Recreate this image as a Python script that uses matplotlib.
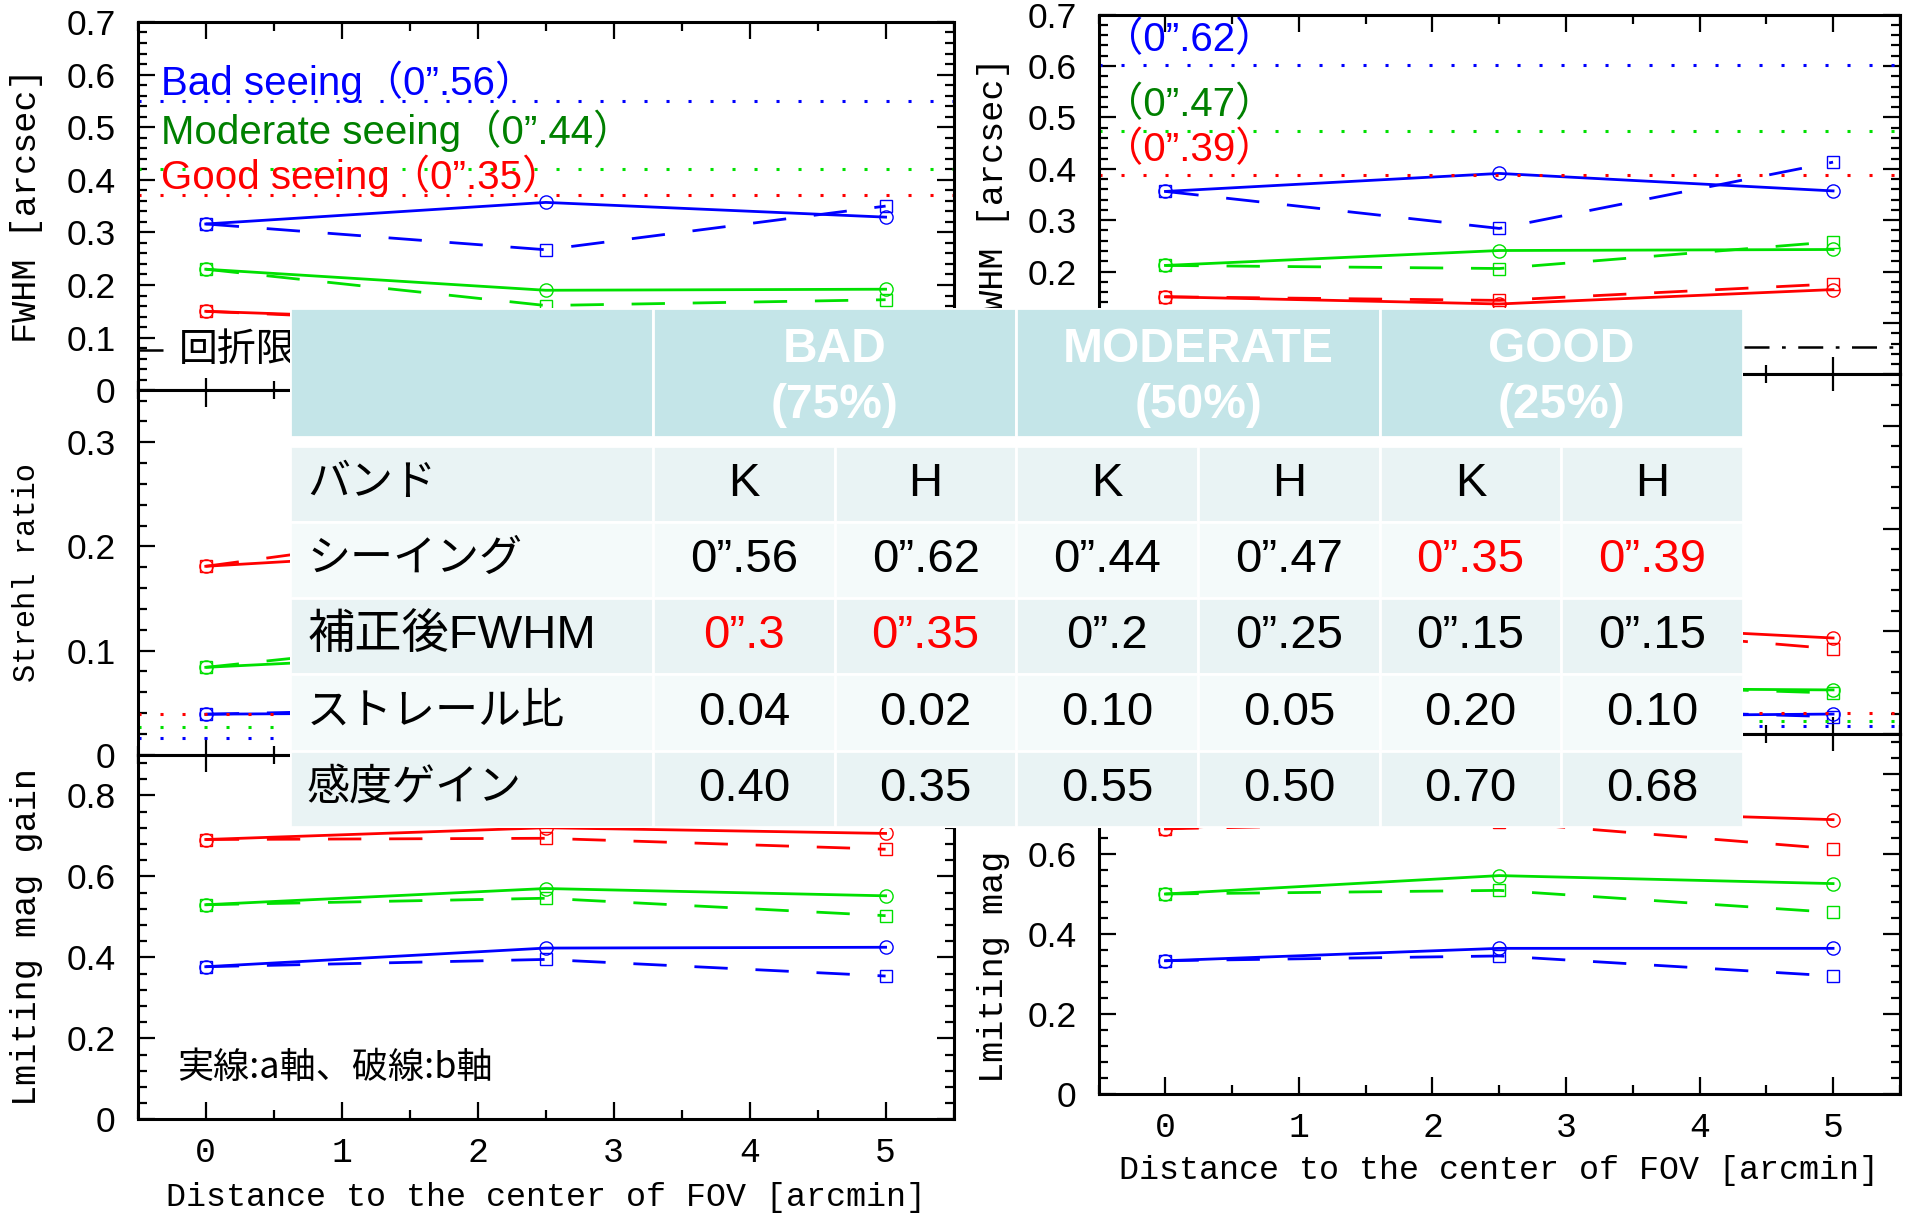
import numpy as np
import matplotlib
matplotlib.use('Agg')
import matplotlib.pyplot as plt
from matplotlib.patches import Rectangle
from matplotlib.ticker import MultipleLocator

plt.rcParams['font.family'] = ['Liberation Sans', 'Noto Sans CJK JP', 'DejaVu Sans']

# 視野中心からの距離 [arcmin]
dist = [0, 2.5, 5]

# 行: bad / moderate / good seeing、a軸(実線) と b軸(破線)
k_fwhm_a = [[0.316, 0.357, 0.329], [0.230, 0.190, 0.192], [0.150, 0.128, 0.135]]
k_fwhm_b = [[0.316, 0.267, 0.350], [0.230, 0.161, 0.172], [0.150, 0.122, 0.140]]
k_strehl_a = [[0.039, 0.041, 0.040], [0.084, 0.100, 0.092], [0.181, 0.200, 0.185]]
k_strehl_b = [[0.039, 0.046, 0.036], [0.084, 0.118, 0.088], [0.181, 0.225, 0.170]]
k_gain_a = [[0.377, 0.423, 0.425], [0.530, 0.570, 0.552], [0.691, 0.720, 0.706]]
k_gain_b = [[0.377, 0.395, 0.354], [0.530, 0.546, 0.503], [0.691, 0.694, 0.667]]

h_fwhm_a = [[0.356, 0.391, 0.357], [0.212, 0.241, 0.243], [0.151, 0.137, 0.165]]
h_fwhm_b = [[0.356, 0.284, 0.413], [0.212, 0.206, 0.258], [0.151, 0.144, 0.176]]
h_strehl_a = [[0.020, 0.017, 0.0195], [0.048, 0.045, 0.043], [0.105, 0.110, 0.0935]]
h_strehl_b = [[0.020, 0.026, 0.017], [0.048, 0.050, 0.040], [0.105, 0.110, 0.083]]
h_gain_a = [[0.333, 0.364, 0.364], [0.500, 0.546, 0.526], [0.663, 0.712, 0.686]]
h_gain_b = [[0.333, 0.345, 0.295], [0.500, 0.509, 0.454], [0.663, 0.680, 0.613]]

# シーイングのみ (点線) と回折限界 (一点鎖線)
k_seeing_fwhm = [0.549, 0.420, 0.372]
k_seeing_strehl = [0.016, 0.027, 0.039]
h_seeing_fwhm = [0.602, 0.473, 0.387]
h_seeing_strehl = [0.008, 0.013, 0.021]
k_diff_limit = 0.076
h_diff_limit = 0.054

seeing_names = ['Bad seeing', 'Moderate seeing', 'Good seeing']
k_seeing_text = ['0”.56', '0”.44', '0”.35']
h_seeing_text = ['0”.62', '0”.47', '0”.39']
k_label_y = [0.587, 0.494, 0.408]
h_label_y = [0.650, 0.524, 0.436]

line_colors = ['#0000ff', '#00e000', '#ff0000']
text_colors = ['#0000ff', '#008000', '#ff0000']

# 表
table_groups = ['', 'BAD\n(75%)', 'MODERATE\n(50%)', 'GOOD\n(25%)']
row_names = ['バンド', 'シーイング', '補正後FWHM', 'ストレール比', '感度ゲイン']
row_name_size = [31, 31, 34, 31, 31]
row_band = ['K', 'H', 'K', 'H', 'K', 'H']
row_seeing = ['0”.56', '0”.62', '0”.44', '0”.47', '0”.35', '0”.39']
row_fwhm = ['0”.3', '0”.35', '0”.2', '0”.25', '0”.15', '0”.15']
row_strehl = ['0.04', '0.02', '0.10', '0.05', '0.20', '0.10']
row_gain = ['0.40', '0.35', '0.55', '0.50', '0.70', '0.68']
red_cells = [(1, 4), (1, 5), (2, 0), (2, 1)]

mono = 'Liberation Mono'

fig = plt.figure(figsize=(19.12, 12.17), dpi=100)

left_x, left_w = 0.07207, 0.42666
right_x, right_w = 0.57462, 0.41901
left_rows = [(0.67936, 0.3026), (0.37976, 0.2996), (0.08016, 0.2996)]
right_rows = [(0.69238, 0.29559), (0.39679, 0.29559), (0.10120, 0.29559)]

panel_ylim = [0.7, 0.35, 0.9]
panel_major = [0.1, 0.1, 0.2]
panel_minor = [0.02, 0.02, 0.04]
panel_ylabel = ['FWHM [arcsec]', 'Strehl ratio', 'Lmiting mag gain']
panel_ylabel_size = [25.3, 22, 25.3]


def setup_axes(ax, i, label_x):
    ax.set_xlim(-0.5, 5.5)
    ax.set_ylim(0, panel_ylim[i])
    ax.set_xticks([0, 1, 2, 3, 4, 5])
    ax.xaxis.set_minor_locator(MultipleLocator(0.5))
    yt = np.round(np.arange(0, panel_ylim[i] + 1e-9, panel_major[i]), 2)
    ax.set_yticks(yt)
    ax.set_yticklabels(['0' if v == 0 else f'{v:.1f}' for v in yt], fontsize=25.5)
    ax.yaxis.set_minor_locator(MultipleLocator(panel_minor[i]))
    ax.tick_params(which='both', direction='in', top=True, right=True, width=1.6)
    ax.tick_params(which='major', length=12.5)
    ax.tick_params(which='minor', length=6.5)
    ax.tick_params(axis='y', pad=16)
    for s in ax.spines.values():
        s.set_linewidth(2.2)
    if i == 2:
        ax.set_xticklabels(['0', '1', '2', '3', '4', '5'], family=mono, fontsize=25)
        ax.tick_params(axis='x', pad=12)
        ax.set_xlabel('Distance to the center of FOV [arcmin]', family=mono, fontsize=24)
        ax.xaxis.set_label_coords(0.5, -0.214)
        ax.xaxis.label.set_va('center')
    else:
        ax.tick_params(labelbottom=False)
    ax.set_ylabel(panel_ylabel[i], family=mono, fontsize=panel_ylabel_size[i])
    ax.yaxis.set_label_coords(label_x, 0.5)
    ax.yaxis.label.set_va('center')


def plot_series(ax, vals_a, vals_b):
    for j in range(3):
        ax.plot(dist, vals_a[j], color=line_colors[j], lw=2.0, marker='o', ms=9.5,
                mfc='none', mew=1.0)
        ax.plot(dist, vals_b[j], color=line_colors[j], lw=2.0, dashes=(12, 10),
                marker='s', ms=9, mfc='none', mew=1.0)


def seeing_lines(ax, levels):
    for j in range(3):
        ax.axhline(levels[j], color=line_colors[j], lw=2.2, dashes=(1, 6.2))


columns = [
    (left_x, left_w, left_rows, -0.136,
     [k_fwhm_a, k_strehl_a, k_gain_a], [k_fwhm_b, k_strehl_b, k_gain_b],
     [k_seeing_fwhm, k_seeing_strehl], k_diff_limit),
    (right_x, right_w, right_rows, -0.131,
     [h_fwhm_a, h_strehl_a, h_gain_a], [h_fwhm_b, h_strehl_b, h_gain_b],
     [h_seeing_fwhm, h_seeing_strehl], h_diff_limit),
]

axes = []
for cx, cw, rows, lx, vals_a, vals_b, seeing, diff in columns:
    col_axes = []
    for i in range(3):
        ax = fig.add_axes([cx, rows[i][0], cw, rows[i][1]])
        setup_axes(ax, i, lx)
        plot_series(ax, vals_a[i], vals_b[i])
        if i < 2:
            seeing_lines(ax, seeing[i])
        if i == 0:
            ax.axhline(diff, color='black', lw=1.8, dashes=(10, 5, 1.5, 5))
        col_axes.append(ax)
    axes.append(col_axes)

# K バンド側のラベル
ax = axes[0][0]
for j in range(3):
    ax.text(-0.33, k_label_y[j], f'{seeing_names[j]}（{k_seeing_text[j]}）',
            color=text_colors[j], fontsize=29, ha='left', va='center',
            family=['Liberation Sans', 'Noto Sans CJK JP'])
ax.text(-0.2, k_diff_limit, '回折限界', fontsize=28, ha='left', va='center',
        family=['Noto Sans CJK JP'],
        bbox=dict(facecolor='white', edgecolor='none', pad=6))
axes[0][2].text(-0.21, 0.126, '実線:a軸、破線:b軸', fontsize=26, ha='left',
                va='center', family=['Noto Sans CJK JP'])

# H バンド側のラベル
ax = axes[1][0]
for j in range(3):
    ax.text(-0.47, h_label_y[j], f'（{h_seeing_text[j]}）', color=text_colors[j],
            fontsize=29, ha='left', va='center',
            family=['Liberation Sans', 'Noto Sans CJK JP'])

# 観測条件ごとのまとめ表
tab = fig.add_axes([0.15167, 0.31964, 0.75994, 0.42728], zorder=10)
tab.set_xlim(0, 8)
tab.set_ylim(6.82, 0)
tab.axis('off')

header_h = 1.686
row_top = 1.806
tab.add_patch(Rectangle((0, 0), 8, row_top + 5, facecolor='white', edgecolor='none'))
edge_kw = dict(edgecolor='white', linewidth=2)
for g in range(4):
    tab.add_patch(Rectangle((2 * g, 0), 2, header_h, facecolor='#c4e5e8', **edge_kw))
    tab.text(2 * g + 1, header_h / 2 + 0.07, table_groups[g], color='white',
             fontsize=34.5, fontweight='bold', ha='center', va='center',
             linespacing=1.32)

row_colors = ['#e9f3f4', '#f4fafa']
row_values = [row_band, row_seeing, row_fwhm, row_strehl, row_gain]
for r in range(5):
    y0 = row_top + r
    fc = row_colors[r % 2]
    tab.add_patch(Rectangle((0, y0), 2, 1, facecolor=fc, **edge_kw))
    tab.text(0.094, y0 + 0.5, row_names[r], fontsize=row_name_size[r], ha='left',
             va='center', family=['Liberation Sans', 'Noto Sans CJK JP'])
    for c in range(6):
        tab.add_patch(Rectangle((2 + c, y0), 1, 1, facecolor=fc, **edge_kw))
        color = 'red' if (r, c) in red_cells else 'black'
        tab.text(2.5 + c, y0 + 0.5, row_values[r][c], fontsize=34, color=color,
                 ha='center', va='center')

fig.savefig('out.png', dpi=100)
